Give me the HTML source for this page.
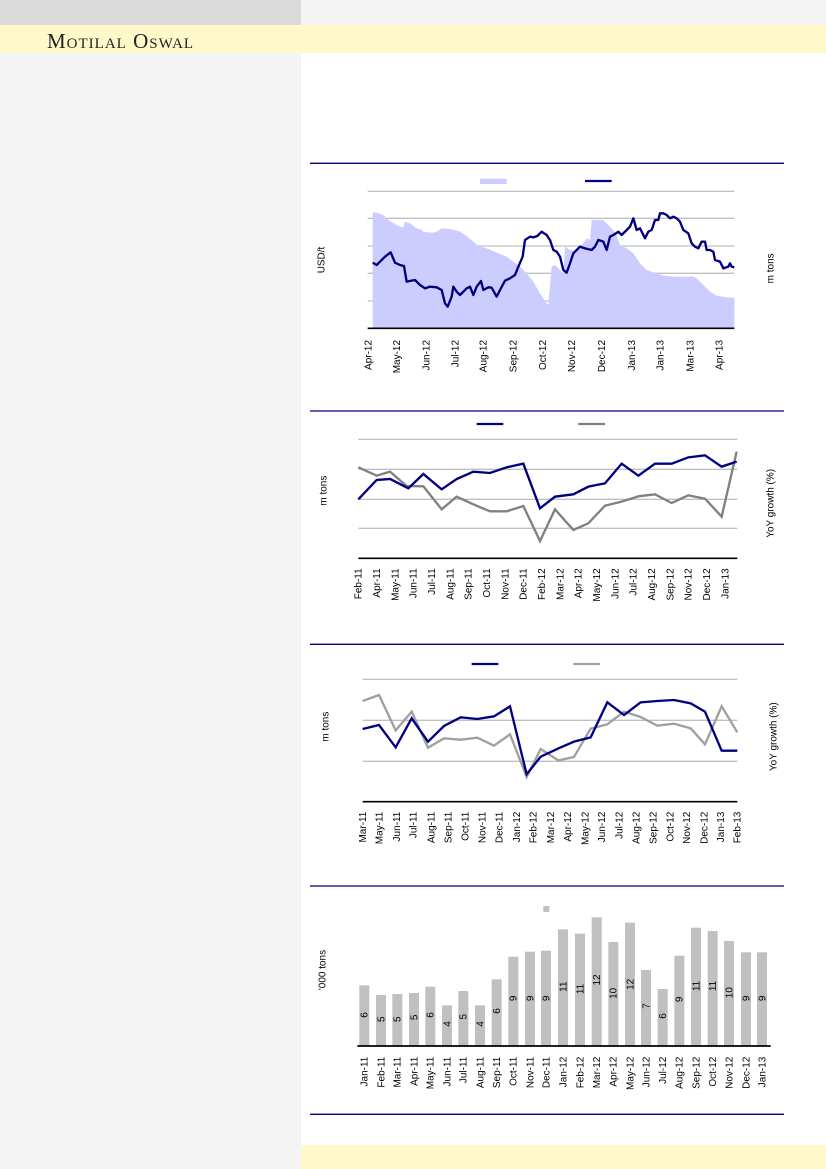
<!DOCTYPE html>
<html><head><meta charset="utf-8"><style>
html,body{margin:0;padding:0}
body{width:826px;height:1169px;position:relative;background:#fff;overflow:hidden;font-family:"Liberation Sans",sans-serif}
.a{position:absolute}
</style></head><body>
<div class="a" style="left:0;top:0;width:301px;height:1169px;background:#f4f4f4"></div>
<div class="a" style="left:0;top:0;width:301px;height:25px;background:#dadada"></div>
<div class="a" style="left:301px;top:0;width:525px;height:25px;background:#f4f4f4"></div>
<div class="a" style="left:0;top:25px;width:826px;height:28px;background:#fff8c8"></div>
<div class="a" style="left:47px;top:29px;font-family:'Liberation Serif',serif;font-size:21px;color:#222;font-variant:small-caps;letter-spacing:1px">Motilal Oswal</div>
<div class="a" style="left:301px;top:1145px;width:525px;height:24px;background:#fff8c8"></div>

<svg class="a" style="left:0;top:0" width="826" height="1169" viewBox="0 0 826 1169" font-family="Liberation Sans, sans-serif">
<!-- Chart 1 -->
<g transform="translate(300,150) scale(0.33333)">
<line x1="30" y1="40" x2="1452" y2="40" stroke="#000080" stroke-width="4"/>
<rect x="540" y="86" width="80" height="16" fill="#ccccff"/>
<line x1="855" y1="93" x2="935" y2="93" stroke="#000080" stroke-width="7"/>
<g stroke="#c0c0c0" stroke-width="4"><line x1="203" y1="124" x2="1303" y2="124"/><line x1="203" y1="205" x2="1303" y2="205"/><line x1="203" y1="288" x2="1303" y2="288"/><line x1="203" y1="370" x2="1303" y2="370"/><line x1="203" y1="453" x2="1303" y2="453"/></g>
<polygon fill="#ccccff" points="218,187 230,188 250,195 265,210 290,225 300,230 310,232 315,215 330,220 345,232 365,240 370,246 400,248 410,245 425,235 450,237 480,245 500,258 520,275 535,288 560,295 590,308 620,320 640,335 660,350 680,370 700,395 720,430 740,460 745,465 755,350 765,345 780,360 790,370 795,290 810,300 830,305 850,280 860,265 870,270 875,210 910,210 930,230 950,255 960,285 980,295 1000,310 1020,340 1040,360 1070,370 1090,377 1120,380 1180,380 1190,385 1210,405 1230,425 1250,437 1280,442 1303,443 1303,535 218,535"/>
<polyline fill="none" stroke="#000080" stroke-width="7" stroke-linejoin="round" points="218,338 230,345 240,335 255,320 272,307 285,338 300,345 312,348 320,395 335,392 345,390 360,405 375,415 390,410 410,412 425,420 435,460 443,470 455,440 460,410 470,425 480,435 490,425 500,415 510,410 520,435 530,410 543,393 550,420 565,412 575,413 590,440 600,420 615,392 630,385 645,375 655,350 668,320 675,270 690,260 700,262 712,258 725,245 740,255 750,270 760,300 770,305 780,320 790,360 800,368 810,340 820,310 830,300 840,290 855,295 875,300 885,290 895,270 910,275 920,300 930,260 940,255 955,245 965,255 980,240 990,230 1000,205 1010,240 1020,235 1035,265 1045,245 1055,240 1065,210 1075,210 1080,190 1090,190 1100,195 1110,205 1120,200 1130,205 1140,215 1150,240 1165,250 1175,280 1185,290 1195,295 1205,275 1215,275 1220,300 1230,300 1240,305 1245,330 1260,335 1270,355 1285,350 1290,340 1295,350 1303,352"/>
<line x1="203" y1="535" x2="1303" y2="535" stroke="#000" stroke-width="5"/>
<g font-size="30" fill="#000" text-anchor="end">
<text transform="translate(215,570) rotate(-90)">Apr-12</text><text transform="translate(300,570) rotate(-90)">May-12</text><text transform="translate(388,570) rotate(-90)">Jun-12</text><text transform="translate(475,570) rotate(-90)">Jul-12</text><text transform="translate(560,570) rotate(-90)">Aug-12</text><text transform="translate(650,570) rotate(-90)">Sep-12</text><text transform="translate(738,570) rotate(-90)">Oct-12</text><text transform="translate(825,570) rotate(-90)">Nov-12</text><text transform="translate(915,570) rotate(-90)">Dec-12</text><text transform="translate(1005,570) rotate(-90)">Jan-13</text><text transform="translate(1090,570) rotate(-90)">Jan-13</text><text transform="translate(1180,570) rotate(-90)">Mar-13</text><text transform="translate(1268,570) rotate(-90)">Apr-13</text>
</g>
<g font-size="30" fill="#000" text-anchor="middle"><text transform="translate(73,330) rotate(-90)">USD/t</text><text transform="translate(1420,355) rotate(-90)">m tons</text></g>
</g>

<!-- Chart 2 -->
<g transform="translate(300,405) scale(0.33333)">
<line x1="30" y1="18" x2="1452" y2="18" stroke="#000080" stroke-width="4"/>
<line x1="530" y1="57" x2="610" y2="57" stroke="#000080" stroke-width="7"/>
<line x1="835" y1="57" x2="915" y2="57" stroke="#808080" stroke-width="7"/>
<g stroke="#c0c0c0" stroke-width="4"><line x1="175" y1="103" x2="1312" y2="103"/><line x1="175" y1="193" x2="1312" y2="193"/><line x1="175" y1="283" x2="1312" y2="283"/><line x1="175" y1="370" x2="1312" y2="370"/></g>
<polyline fill="none" stroke="#808080" stroke-width="7" points="175,187 230,212 270,200 320,243 370,244 425,313 470,275 520,298 570,319 620,319 670,303 720,408 765,313 820,375 865,355 915,302 965,290 1015,274 1065,268 1115,294 1165,271 1215,281 1265,335 1310,140"/>
<polyline fill="none" stroke="#000080" stroke-width="7" points="175,283 230,225 270,222 325,250 370,207 425,253 470,222 520,200 570,204 620,187 670,176 720,310 765,275 820,268 865,245 915,235 965,176 1015,212 1065,176 1115,176 1165,157 1215,151 1265,185 1310,170"/>
<line x1="175" y1="460" x2="1312" y2="460" stroke="#000" stroke-width="5"/>
<line x1="30" y1="718" x2="1452" y2="718" stroke="#000080" stroke-width="4"/>
<g font-size="30" fill="#000" text-anchor="end">
<text transform="translate(185,490) rotate(-90)">Feb-11</text><text transform="translate(240,490) rotate(-90)">Apr-11</text><text transform="translate(295,490) rotate(-90)">May-11</text><text transform="translate(350,490) rotate(-90)">Jun-11</text><text transform="translate(405,490) rotate(-90)">Jul-11</text><text transform="translate(460,490) rotate(-90)">Aug-11</text><text transform="translate(515,490) rotate(-90)">Sep-11</text><text transform="translate(570,490) rotate(-90)">Oct-11</text><text transform="translate(625,490) rotate(-90)">Nov-11</text><text transform="translate(680,490) rotate(-90)">Dec-11</text><text transform="translate(735,490) rotate(-90)">Feb-12</text><text transform="translate(790,490) rotate(-90)">Mar-12</text><text transform="translate(845,490) rotate(-90)">Apr-12</text><text transform="translate(900,490) rotate(-90)">May-12</text><text transform="translate(955,490) rotate(-90)">Jun-12</text><text transform="translate(1010,490) rotate(-90)">Jul-12</text><text transform="translate(1065,490) rotate(-90)">Aug-12</text><text transform="translate(1120,490) rotate(-90)">Sep-12</text><text transform="translate(1175,490) rotate(-90)">Nov-12</text><text transform="translate(1230,490) rotate(-90)">Dec-12</text><text transform="translate(1285,490) rotate(-90)">Jan-13</text>
</g>
<g font-size="30" fill="#000" text-anchor="middle"><text transform="translate(80,257) rotate(-90)">m tons</text><text transform="translate(1420,295) rotate(-90)">YoY growth (%)</text></g>
</g>

<!-- Chart 3 -->
<g transform="translate(300,645) scale(0.33333)">
<line x1="515" y1="57" x2="595" y2="57" stroke="#000080" stroke-width="7"/>
<line x1="820" y1="57" x2="900" y2="57" stroke="#a0a0a0" stroke-width="7"/>
<g stroke="#c0c0c0" stroke-width="4"><line x1="188" y1="103" x2="1312" y2="103"/><line x1="188" y1="226" x2="1312" y2="226"/><line x1="188" y1="349" x2="1312" y2="349"/></g>
<polyline fill="none" stroke="#a0a0a0" stroke-width="7" points="188,168 237,150 287,256 335,200 384,308 432,280 482,284 532,278 582,302 630,268 680,396 722,312 775,346 822,336 872,251 922,238 972,200 1022,216 1072,242 1122,236 1172,250 1215,298 1265,184 1312,262"/>
<polyline fill="none" stroke="#000080" stroke-width="7" points="188,252 237,240 287,307 335,220 384,290 432,243 482,217 532,222 582,214 630,184 680,388 722,335 780,308 822,290 872,277 922,172 972,210 1022,172 1072,168 1122,165 1172,175 1215,200 1265,317 1312,317"/>
<line x1="188" y1="470" x2="1312" y2="470" stroke="#000" stroke-width="5"/>
<g font-size="30" fill="#000" text-anchor="end">
<text transform="translate(198,500) rotate(-90)">Mar-11</text><text transform="translate(248,500) rotate(-90)">May-11</text><text transform="translate(300,500) rotate(-90)">Jun-11</text><text transform="translate(350,500) rotate(-90)">Jul-11</text><text transform="translate(403,500) rotate(-90)">Aug-11</text><text transform="translate(455,500) rotate(-90)">Sep-11</text><text transform="translate(505,500) rotate(-90)">Oct-11</text><text transform="translate(557,500) rotate(-90)">Nov-11</text><text transform="translate(608,500) rotate(-90)">Dec-11</text><text transform="translate(660,500) rotate(-90)">Jan-12</text><text transform="translate(710,500) rotate(-90)">Feb-12</text><text transform="translate(762,500) rotate(-90)">Mar-12</text><text transform="translate(813,500) rotate(-90)">Apr-12</text><text transform="translate(865,500) rotate(-90)">May-12</text><text transform="translate(915,500) rotate(-90)">Jun-12</text><text transform="translate(967,500) rotate(-90)">Jul-12</text><text transform="translate(1018,500) rotate(-90)">Aug-12</text><text transform="translate(1070,500) rotate(-90)">Sep-12</text><text transform="translate(1120,500) rotate(-90)">Oct-12</text><text transform="translate(1170,500) rotate(-90)">Nov-12</text><text transform="translate(1222,500) rotate(-90)">Dec-12</text><text transform="translate(1272,500) rotate(-90)">Jan-13</text><text transform="translate(1322,500) rotate(-90)">Feb-13</text>
</g>
<g font-size="30" fill="#000" text-anchor="middle"><text transform="translate(85,245) rotate(-90)">m tons</text><text transform="translate(1430,275) rotate(-90)">YoY growth (%)</text></g>
</g>

<!-- Chart 4 -->
<g transform="translate(300,880) scale(0.33333)">
<line x1="30" y1="18" x2="1452" y2="18" stroke="#000080" stroke-width="4"/>
<rect x="730" y="78" width="18" height="18" fill="#c0c0c0"/>
<g fill="#c0c0c0">
<rect x="178" y="316" width="30" height="182"/><rect x="228" y="345" width="30" height="153"/><rect x="277" y="342" width="30" height="156"/><rect x="327" y="339" width="30" height="159"/><rect x="376" y="320" width="30" height="178"/><rect x="426" y="376" width="30" height="122"/><rect x="475" y="333" width="30" height="165"/><rect x="525" y="376" width="30" height="122"/><rect x="575" y="298" width="30" height="200"/><rect x="625" y="230" width="30" height="268"/><rect x="675" y="215" width="30" height="283"/><rect x="723" y="212" width="30" height="286"/><rect x="774" y="148" width="30" height="350"/><rect x="825" y="161" width="30" height="337"/><rect x="875" y="112" width="30" height="386"/><rect x="925" y="186" width="30" height="312"/><rect x="975" y="128" width="30" height="370"/><rect x="1023" y="270" width="30" height="228"/><rect x="1073" y="327" width="30" height="171"/><rect x="1123" y="227" width="30" height="271"/><rect x="1173" y="143" width="30" height="355"/><rect x="1223" y="153" width="30" height="345"/><rect x="1272" y="183" width="30" height="315"/><rect x="1323" y="217" width="30" height="281"/><rect x="1371" y="217" width="30" height="281"/>
</g>
<line x1="172" y1="498" x2="1412" y2="498" stroke="#000" stroke-width="5"/>
<g font-size="30" fill="#000" text-anchor="middle">
<text transform="translate(203,405) rotate(-90)">6</text><text transform="translate(253,418) rotate(-90)">5</text><text transform="translate(302,418) rotate(-90)">5</text><text transform="translate(352,412) rotate(-90)">5</text><text transform="translate(401,405) rotate(-90)">6</text><text transform="translate(451,432) rotate(-90)">4</text><text transform="translate(500,410) rotate(-90)">5</text><text transform="translate(550,432) rotate(-90)">4</text><text transform="translate(600,393) rotate(-90)">6</text><text transform="translate(650,355) rotate(-90)">9</text><text transform="translate(700,355) rotate(-90)">9</text><text transform="translate(748,355) rotate(-90)">9</text><text transform="translate(799,320) rotate(-90)">11</text><text transform="translate(850,327) rotate(-90)">11</text><text transform="translate(900,300) rotate(-90)">12</text><text transform="translate(950,340) rotate(-90)">10</text><text transform="translate(1000,313) rotate(-90)">12</text><text transform="translate(1048,378) rotate(-90)">7</text><text transform="translate(1098,408) rotate(-90)">6</text><text transform="translate(1148,358) rotate(-90)">9</text><text transform="translate(1198,318) rotate(-90)">11</text><text transform="translate(1248,318) rotate(-90)">11</text><text transform="translate(1297,338) rotate(-90)">10</text><text transform="translate(1348,355) rotate(-90)">9</text><text transform="translate(1396,355) rotate(-90)">9</text>
<text transform="translate(76,270) rotate(-90)">'000 tons</text>
</g>
<g font-size="30" fill="#000" text-anchor="end">
<text transform="translate(203,530) rotate(-90)">Jan-11</text><text transform="translate(253,530) rotate(-90)">Feb-11</text><text transform="translate(302,530) rotate(-90)">Mar-11</text><text transform="translate(352,530) rotate(-90)">Apr-11</text><text transform="translate(401,530) rotate(-90)">May-11</text><text transform="translate(451,530) rotate(-90)">Jun-11</text><text transform="translate(500,530) rotate(-90)">Jul-11</text><text transform="translate(550,530) rotate(-90)">Aug-11</text><text transform="translate(600,530) rotate(-90)">Sep-11</text><text transform="translate(650,530) rotate(-90)">Oct-11</text><text transform="translate(700,530) rotate(-90)">Nov-11</text><text transform="translate(748,530) rotate(-90)">Dec-11</text><text transform="translate(799,530) rotate(-90)">Jan-12</text><text transform="translate(850,530) rotate(-90)">Feb-12</text><text transform="translate(900,530) rotate(-90)">Mar-12</text><text transform="translate(950,530) rotate(-90)">Apr-12</text><text transform="translate(1000,530) rotate(-90)">May-12</text><text transform="translate(1048,530) rotate(-90)">Jun-12</text><text transform="translate(1098,530) rotate(-90)">Jul-12</text><text transform="translate(1148,530) rotate(-90)">Aug-12</text><text transform="translate(1198,530) rotate(-90)">Sep-12</text><text transform="translate(1248,530) rotate(-90)">Oct-12</text><text transform="translate(1297,530) rotate(-90)">Nov-12</text><text transform="translate(1348,530) rotate(-90)">Dec-12</text><text transform="translate(1396,530) rotate(-90)">Jan-13</text>
</g>
<line x1="30" y1="703" x2="1452" y2="703" stroke="#000080" stroke-width="4"/>
</g>
</svg>
</body></html>
